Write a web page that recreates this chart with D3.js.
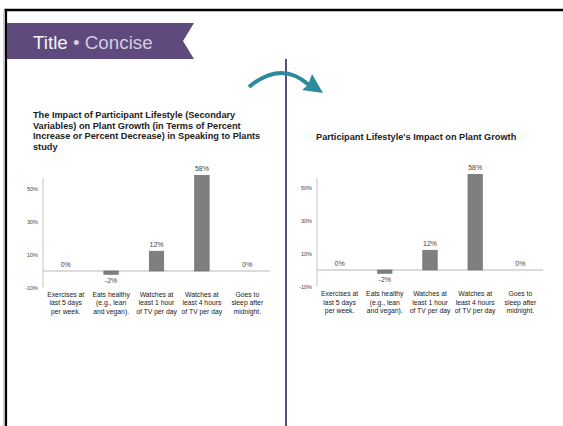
<!DOCTYPE html>
<html>
<head>
<meta charset="utf-8">
<script src="https://cdn.jsdelivr.net/npm/d3@7"></script>
<style>
  html, body { margin: 0; padding: 0; background: #ffffff; }
  svg { display: block; }
</style>
</head>
<body>
<svg id="chart" width="563" height="426"></svg>
<script>
// ---- data ----
const categories = [
  ["Exercises at", "last 5 days", "per week."],
  ["Eats healthy", "(e.g., lean", "and vegan)."],
  ["Watches at", "least 1 hour", "of TV per day"],
  ["Watches at", "least 4 hours", "of TV per day"],
  ["Goes to", "sleep after", "midnight."]
];
const values = [0, -2, 12, 58, 0];
const valueLabels = ["0%", "-2%", "12%", "58%", "0%"];
const tickValues = [50, 30, 10, -10];
const tickLabels = ["50%", "30%", "10%", "-10%"];
const leftTitle = [
  "The Impact of Participant Lifestyle (Secondary",
  "Variables) on Plant Growth (in Terms of Percent",
  "Increase or Percent Decrease) in Speaking to Plants",
  "study"
];
const rightTitle = ["Participant Lifestyle's Impact on Plant Growth"];
const bannerMain = "Title";
const bannerSub = "\u2022 Concise";

const svg = d3.select("#chart");
const purple = "#5f4a7d";

// ---- slide frame ----
svg.append("line").attr("x1", 4.5).attr("x2", 563).attr("y1", 10).attr("y2", 10)
  .attr("stroke", "#000").attr("stroke-width", 2.5);
svg.append("line").attr("x1", 6).attr("x2", 6).attr("y1", 9).attr("y2", 426)
  .attr("stroke", "#000").attr("stroke-width", 2.2);
svg.append("line").attr("x1", 4).attr("x2", 4).attr("y1", 11).attr("y2", 426)
  .attr("stroke", "#999").attr("stroke-width", 1);

// banner
svg.append("path")
  .attr("d", "M7,23 L194,23 L183,41 L194,59 L7,59 Z")
  .attr("fill", purple);
const bt = svg.append("text").attr("x", 33).attr("y", 48.5)
  .attr("font-family", "Liberation Sans, Arial, sans-serif").attr("font-size", 18.8);
bt.append("tspan").attr("fill", "#f4f2f7").text(bannerMain + " ");
bt.append("tspan").attr("fill", "#d4cce0").text(bannerSub);

// divider
svg.append("line").attr("x1", 286).attr("x2", 286).attr("y1", 59).attr("y2", 426)
  .attr("stroke", purple).attr("stroke-width", 2);

// arrow
const teal = "#2d8a9e";
svg.append("path")
  .attr("d", "M249,87 Q281,60 309,85")
  .attr("fill", "none").attr("stroke", teal).attr("stroke-width", 4);
svg.append("path")
  .attr("d", "M312,74 L323,93 L302,90 L308,85 Z")
  .attr("fill", teal);

// ---- chart drawing ----
function drawChart(cfg) {
  const g = svg.append("g");
  // title
  g.append("g").selectAll("text").data(cfg.title).join("text")
    .attr("x", cfg.titleX)
    .attr("y", (d, i) => cfg.titleY + i * 10.7)
    .attr("font-family", "Liberation Sans, Arial, sans-serif")
    .attr("font-weight", "bold").attr("font-size", 9.2).attr("fill", "#222")
    .text(d => d);

  const x = d3.scaleBand().domain(d3.range(categories.length))
    .range([cfg.x0, cfg.x1]).paddingInner(0.68).paddingOuter(0.34);
  const y = d3.scaleLinear().domain([-10, 50]).range([cfg.yBottom, cfg.yTop]);

  // y axis line
  g.append("line").attr("x1", cfg.x0).attr("x2", cfg.x0)
    .attr("y1", cfg.axisTop).attr("y2", y(-10))
    .attr("stroke", "#c4c4c4").attr("stroke-width", 1);
  // tick labels
  const yAxis = d3.axisLeft(y).tickValues(tickValues)
    .tickFormat((d, i) => tickLabels[i]).tickSize(0).tickPadding(5);
  const ya = g.append("g").attr("transform", `translate(${cfg.x0},0)`).call(yAxis);
  ya.select(".domain").remove();
  ya.selectAll("text").attr("font-family", "Liberation Sans Narrow, Arial Narrow, sans-serif")
    .attr("font-size", 5.5).attr("fill", "#444");

  // baseline
  g.append("line").attr("x1", cfg.x0).attr("x2", cfg.x1)
    .attr("y1", y(0)).attr("y2", y(0))
    .attr("stroke", "#b8b8b8").attr("stroke-width", 1.2);

  // bars
  g.append("g").selectAll("rect").data(values).join("rect")
    .attr("x", (d, i) => x(i))
    .attr("width", x.bandwidth())
    .attr("y", d => y(Math.max(0, d)))
    .attr("height", d => Math.abs(y(d) - y(0)))
    .attr("fill", "#7f7f7f").attr("stroke", "#6a6a6a").attr("stroke-width", 0.6);

  // value labels
  g.append("g").selectAll("text").data(values).join("text")
    .attr("x", (d, i) => x(i) + x.bandwidth() / 2)
    .attr("y", d => d < 0 ? y(d) + 8.5 : y(d) - 4)
    .attr("text-anchor", "middle")
    .attr("font-family", "Liberation Sans Narrow, Arial Narrow, sans-serif")
    .attr("font-size", 7).attr("fill", "#444")
    .text((d, i) => valueLabels[i]);

  // category labels
  const cg = g.append("g").selectAll("text").data(categories).join("text")
    .attr("text-anchor", "middle")
    .attr("font-family", "Liberation Sans Narrow, Arial Narrow, sans-serif")
    .attr("font-size", 6.8).attr("fill", "#1a1a1a");
  cg.selectAll("tspan").data((d, i) => d.map(t => ({ t, i }))).join("tspan")
    .attr("x", d => x(d.i) + x.bandwidth() / 2)
    .attr("y", (d, j) => cfg.catY + j * 8.7)
    .text(d => d.t);
}

drawChart({ title: leftTitle, titleX: 33, titleY: 118, x0: 43, x1: 270,
  yTop: 188.5, yBottom: 287.5, axisTop: 178, catY: 296.5 });
drawChart({ title: rightTitle, titleX: 316, titleY: 140, x0: 317, x1: 543,
  yTop: 187.5, yBottom: 286.5, axisTop: 178, catY: 296 });
</script>
</body>
</html>
